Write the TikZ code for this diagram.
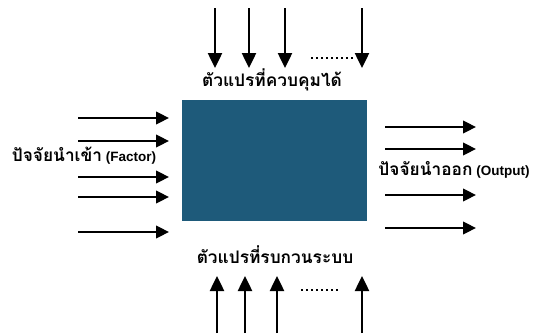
\documentclass[tikz,border=0pt]{standalone}
\usepackage{fontspec}
\setmainfont{Liberation Sans}
\newfontfamily\thaifont[Script=Thai,Scale=1.28]{Loma}
\usetikzlibrary{arrows.meta}
\definecolor{boxblue}{RGB}{30,90,122}
\tikzset{
  harrow/.style={line width=2.5pt,-{Triangle[length=13pt,width=12.5pt]}},
  varrow/.style={line width=2.5pt,-{Triangle[length=15pt,width=14pt]}},
  dotline/.style={line width=1.7pt,dash pattern=on 1.7pt off 3.3pt},
  lbl/.style={font=\fontsize{13.5}{15}\selectfont\bfseries,inner sep=0pt}
}
\begin{document}
\begin{tikzpicture}[x=1pt,y=-1pt]
\useasboundingbox (0,0) rectangle (542,335);
\node[fill=boxblue,minimum width=185pt,minimum height=121pt,inner sep=0pt,anchor=north west] (sys) at (182,100) {};
% top arrows
\foreach \i/\x in {1/215,2/249,3/285,4/362}{
  \coordinate (t\i s) at (\x,8);
  \coordinate (t\i e) at (\x,68);
  \draw[varrow] (t\i s) -- (t\i e);
}
\coordinate (td1) at (311,58); \coordinate (td2) at (355,58);
\draw[dotline] (td1) -- (td2);
\node[lbl] (ctrl) at (272,80) {\thaifont ตัวแปรที่ควบคุมได้};
% bottom arrows
\foreach \i/\x in {1/217,2/245,3/277,4/362}{
  \coordinate (b\i s) at (\x,333);
  \coordinate (b\i e) at (\x,276);
  \draw[varrow] (b\i s) -- (b\i e);
}
\coordinate (bd1) at (301,290); \coordinate (bd2) at (339,290);
\draw[dotline] (bd1) -- (bd2);
\node[lbl] (dist) at (275,255) {\thaifont ตัวแปรที่รบกวนระบบ};
% left arrows
\foreach \i/\y in {1/118,2/141,3/177,4/197,5/232}{
  \coordinate (l\i s) at (78,\y);
  \coordinate (l\i e) at (169,\y);
  \draw[harrow] (l\i s) -- (l\i e);
}
\node[lbl] (inp) at (84,156) {{\thaifont ปัจจัยนำเข้า} (Factor)};
% right arrows
\foreach \i/\y in {1/127,2/149,3/195,4/228}{
  \coordinate (r\i s) at (385,\y);
  \coordinate (r\i e) at (476,\y);
  \draw[harrow] (r\i s) -- (r\i e);
}
\node[lbl] (out) at (454,170) {{\thaifont ปัจจัยนำออก} (Output)};
\end{tikzpicture}
\end{document}
